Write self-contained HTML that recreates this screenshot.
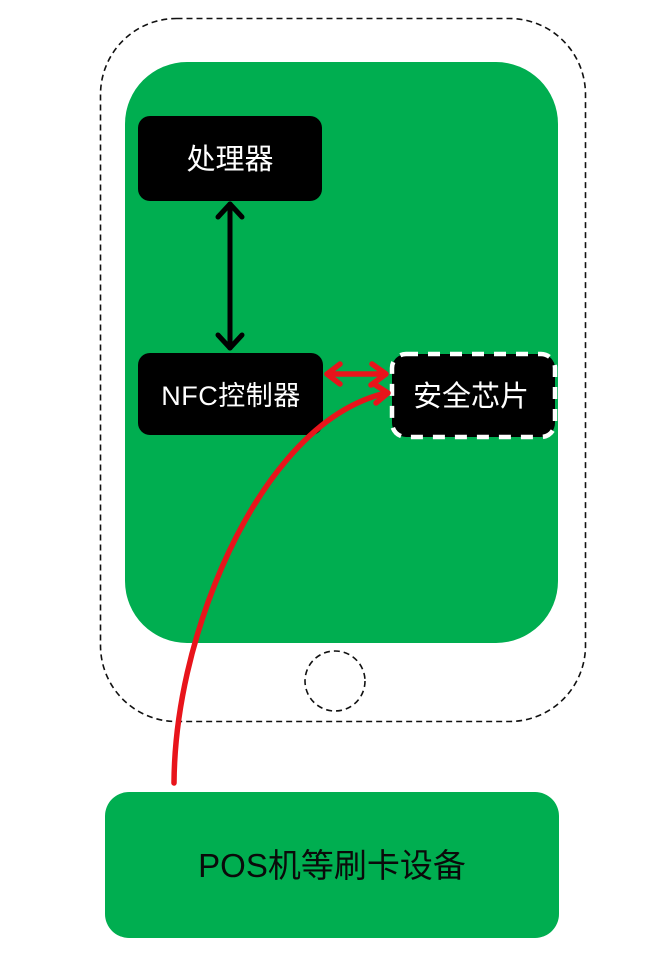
<!DOCTYPE html>
<html>
<head>
<meta charset="utf-8">
<style>
html,body{margin:0;padding:0;background:#fff;}
svg{display:block;}
text{font-family:"Liberation Sans","Noto Sans CJK SC",sans-serif;}
</style>
</head>
<body>
<svg width="657" height="970" viewBox="0 0 657 970" xmlns="http://www.w3.org/2000/svg">
  <rect x="0" y="0" width="657" height="970" fill="#ffffff"/>
  <!-- phone outline -->
  <rect x="100.5" y="18.5" width="485" height="703" rx="76" ry="76" fill="none" stroke="#111" stroke-width="1.6" stroke-dasharray="6 4"/>
  <!-- screen -->
  <rect x="125" y="62" width="433" height="581" rx="62" ry="62" fill="#00AE50"/>
  <!-- home button -->
  <circle cx="335" cy="681" r="30" fill="none" stroke="#111" stroke-width="1.6" stroke-dasharray="6 4"/>

  <!-- processor -->
  <rect x="138" y="116" width="184" height="85" rx="12" ry="12" fill="#000"/>
  <text x="230" y="169" font-size="29" fill="#fff" text-anchor="middle">处理器</text>

  <!-- NFC controller -->
  <rect x="138" y="353" width="185" height="82" rx="12" ry="12" fill="#000"/>
  <text x="231" y="405" font-size="27" letter-spacing="0.5" fill="#fff" text-anchor="middle">NFC控制器</text>

  <!-- secure chip -->
  <rect x="392" y="354" width="163" height="83" rx="14" ry="14" fill="#000" stroke="#fff" stroke-width="4.5" stroke-dasharray="12 10"/>
  <text x="471" y="406" font-size="29" fill="#fff" text-anchor="middle">安全芯片</text>

  <!-- black double arrow -->
  <g stroke="#000" stroke-width="5" fill="none" stroke-linecap="round" stroke-linejoin="round">
    <line x1="230" y1="204" x2="230" y2="348"/>
    <polyline points="218,217 230,204 242,217"/>
    <polyline points="218,335 230,348 242,335"/>
  </g>

  <!-- red double arrow -->
  <g stroke="#E8141B" stroke-width="5.5" fill="none" stroke-linecap="round" stroke-linejoin="round">
    <line x1="327" y1="374" x2="385" y2="374"/>
    <polyline points="340,364 327,374 340,384"/>
    <polyline points="372,364 386,374 371,385"/>
    <!-- curve from POS -->
    <path d="M174,783 C174.5,710 193,634 222,567 C254,494 309,411 386,393"/>
    <polyline points="374,384 388,393 376,403"/>
  </g>

  <!-- POS device -->
  <rect x="105" y="792" width="454" height="146" rx="24" ry="24" fill="#00AE50"/>
  <text x="332" y="877" font-size="33" fill="#0a0a0a" text-anchor="middle">POS机等刷卡设备</text>
</svg>
</body>
</html>
